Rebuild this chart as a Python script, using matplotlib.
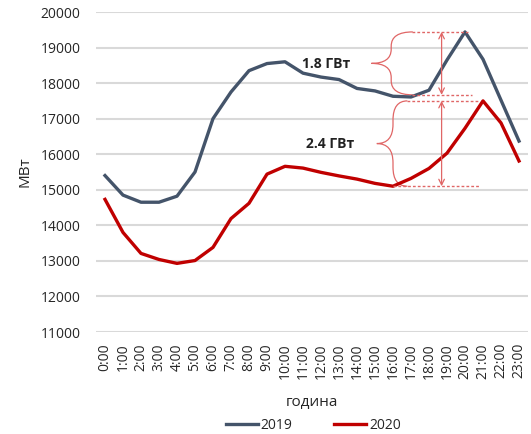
import numpy as np
import matplotlib.pyplot as plt
from matplotlib.path import Path
from matplotlib.patches import PathPatch

hours = [f"{h}:00" for h in range(24)]
load_2019 = [15400, 14850, 14650, 14650, 14820, 15500, 17000, 17750, 18350, 18550,
             18600, 18280, 18170, 18100, 17850, 17780, 17630, 17610, 17800, 18650,
             19440, 18670, 17520, 16370]
load_2020 = [14730, 13800, 13210, 13040, 12930, 13010, 13380, 14190, 14620, 15440,
             15660, 15610, 15490, 15390, 15300, 15180, 15100, 15320, 15600, 16030,
             16730, 17500, 16880, 15810]

plt.rcParams['font.family'] = ['Open Sans', 'DejaVu Sans']
gray = "#44546a"
red = "#c00000"
brace_col = "#e06666"

fig = plt.figure(figsize=(5.31, 4.34), dpi=100)
ax = fig.add_axes([96/531, 1-332/434, 432/531, 320/434])

x = np.arange(len(hours))
ax.plot(x, load_2019, color=gray, lw=2.4, label="2019", solid_joinstyle="round")
ax.plot(x, load_2020, color=red, lw=2.4, label="2020", solid_joinstyle="round")

ax.set_xlim(-0.5, 23.5)
ax.set_ylim(11000, 20000)
ax.set_yticks(np.arange(11000, 20001, 1000))
ax.set_xticks(x)
ax.set_xticklabels(hours, rotation=90)
ax.tick_params(length=0, labelsize=10, colors="#262626")
ax.tick_params(axis="y", pad=11)
ax.tick_params(axis="x", pad=8)
ax.grid(axis="y", color="#d9d9d9", lw=1.5)
ax.set_axisbelow(True)
for s in ax.spines.values():
    s.set_visible(False)
ax.set_ylabel("МВт", fontsize=11, color="#262626", labelpad=6)
ax.set_xlabel("година", fontsize=11, color="#262626", labelpad=12)

# gap annotations
top19 = max(load_2019)
low19 = min(load_2019[14:19])
top20 = max(load_2020)
low20 = min(load_2020[14:19])


def brace(xt, xs, xe, y0, y1):
    ym = (y0 + y1) / 2
    r = (y1 - ym) * 0.45
    verts = [(xe, y1), (xs, y1), (xs, y1 - r), (xs, ym + r), (xs, ym), (xt, ym),
             (xs, ym), (xs, ym - r), (xs, y0 + r), (xs, y0), (xe, y0)]
    codes = [Path.MOVETO, Path.CURVE3, Path.CURVE3, Path.LINETO, Path.CURVE3, Path.CURVE3,
             Path.CURVE3, Path.CURVE3, Path.LINETO, Path.CURVE3, Path.CURVE3]
    ax.add_patch(PathPatch(Path(verts, codes), fc="none", ec=brace_col, lw=0.9))


brace(14.8, 15.9, 17.1, low19 + 60, top19)
brace(15.1, 16.0, 16.8, low20, top20)

dash = dict(color=brace_col, lw=1, ls=(0, (2, 1.5)))
ax.plot([17.05, 20.15], [top19, top19], **dash)
ax.plot([17.05, 20.4], [low19 + 60, low19 + 60], **dash)
ax.plot([16.8, 20.8], [top20, top20], **dash)
ax.plot([16.0, 20.8], [low20, low20], **dash)
arr = dict(arrowstyle="<->", color=brace_col, lw=0.9, shrinkA=0, shrinkB=0)
ax.annotate("", xy=(18.7, top19), xytext=(18.7, low19 + 60), arrowprops=arr)
ax.annotate("", xy=(18.7, top20), xytext=(18.7, low20), arrowprops=arr)

ax.text(12.3, (top19 + low19) / 2, f"{(top19 - low19) / 1000:.1f} ГВт",
        ha="center", va="center", fontsize=10, fontweight="bold", color="#222222")
ax.text(12.5, (top20 + low20) / 2, f"{(top20 - low20) / 1000:.1f} ГВт",
        ha="center", va="center", fontsize=10, fontweight="bold", color="#222222")

fig.legend(loc="center", bbox_to_anchor=(0.59, 0.02), ncol=2, frameon=False,
           fontsize=10, handlelength=2.3, handletextpad=0.2, columnspacing=3,
           labelcolor="#262626")

fig.savefig("out.png", dpi=100)
